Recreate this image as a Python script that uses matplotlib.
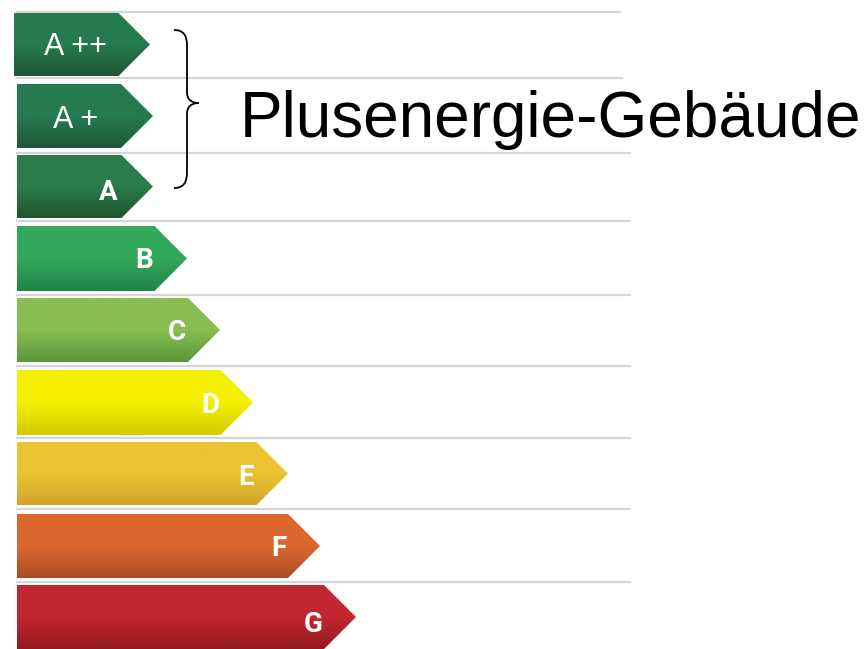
import numpy as np
import matplotlib.pyplot as plt
from matplotlib.colors import LinearSegmentedColormap
from matplotlib.patches import Polygon, PathPatch
from matplotlib.path import Path

# energy classes, top to bottom
labels = ['A ++', 'A +', 'A', 'B', 'C', 'D', 'E', 'F', 'G']
bold = [False, False, True, True, True, True, True, True, True]
# arrow tip position (px) for each class
tips = [150, 153, 153, 187, 220, 253, 288, 320, 356]
tops = [13, 84, 155, 226, 298, 370, 442, 514, 585]
bottoms = [76, 148, 218, 291, 362, 435, 505, 578, 649]
lefts = [14, 17, 17, 17, 17, 17, 17, 17, 17]
label_x = [75, 76, 108, 144, 177, 210, 246, 279, 313]
label_base = [55, 128, 200, 268, 340, 413, 485, 556, 632]
top_cols = ['#267a50', '#267a50', '#2b7c49', '#33a85c', '#8abd52', '#f4f000', '#ecc333', '#db672e', '#c2262e']
bot_cols = ['#1d5636', '#1d5838', '#1f5630', '#20844a', '#58983a', '#d4cc00', '#d0a52a', '#ad4c25', '#941a21']

# grey separator lines
sep_y = [12, 78, 153, 221, 295, 366, 438, 509, 582]
sep_end = [620, 622, 630, 630, 630, 630, 630, 630, 630]

fig = plt.figure(figsize=(8.66, 6.49), dpi=100)
ax = fig.add_axes([0, 0, 1, 1])
ax.set_xlim(0, 866)
ax.set_ylim(649, 0)
ax.axis('off')

for y, xe in zip(sep_y, sep_end):
    ax.plot([17, xe], [y, y], color='#d6d6d6', lw=1.6, zorder=1)

for i in range(len(labels)):
    x0, x1 = lefts[i], tips[i]
    y0, y1 = tops[i], bottoms[i]
    h = y1 - y0
    xb = x1 - h / 2
    poly = Polygon([(x0, y0), (xb, y0), (x1, (y0 + y1) / 2), (xb, y1), (x0, y1)],
                   closed=True, facecolor='none', edgecolor='none')
    ax.add_patch(poly)
    cmap = LinearSegmentedColormap.from_list('g%d' % i, [top_cols[i], top_cols[i], bot_cols[i]])
    grad = np.linspace(0, 1, 64).reshape(-1, 1)
    im = ax.imshow(grad, cmap=cmap, aspect='auto', extent=(x0, x1, y1, y0),
                   interpolation='bilinear', zorder=2)
    im.set_clip_path(poly)
    if bold[i]:
        ax.text(label_x[i], label_base[i], labels[i], color='white', fontsize=20,
                fontfamily='Roboto', fontweight='bold', ha='center', va='baseline', zorder=3)
    else:
        ax.text(label_x[i], label_base[i], labels[i], color='white', fontsize=22,
                fontfamily='Liberation Sans', ha='center', va='baseline', zorder=3)

# curly brace for A++ .. A
verts = [(174, 30), (184, 30), (187, 36), (187, 46),
         (187, 92),
         (187, 99), (191, 103), (199, 103),
         (191, 103), (187, 107), (187, 114),
         (187, 172),
         (187, 182), (184, 188), (174, 188)]
codes = [Path.MOVETO, Path.CURVE4, Path.CURVE4, Path.CURVE4,
         Path.LINETO,
         Path.CURVE4, Path.CURVE4, Path.CURVE4,
         Path.CURVE4, Path.CURVE4, Path.CURVE4,
         Path.LINETO,
         Path.CURVE4, Path.CURVE4, Path.CURVE4]
ax.add_patch(PathPatch(Path(verts, codes), facecolor='none', edgecolor='black', lw=1.3, zorder=3))

ax.text(240, 137, 'Plusenergie-Gebäude', fontsize=46, fontfamily='Liberation Sans',
        ha='left', va='baseline', color='black', zorder=3)

fig.savefig('out.png', dpi=100)
